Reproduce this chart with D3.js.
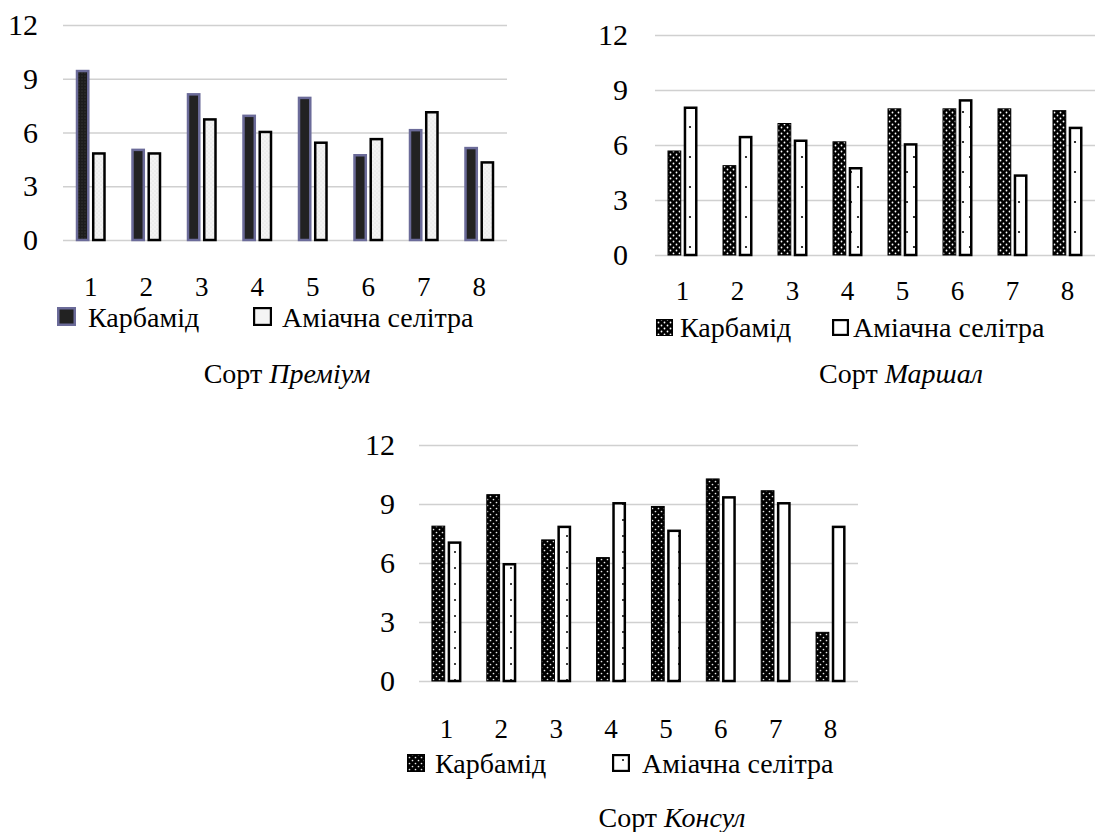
<!DOCTYPE html>
<html><head><meta charset="utf-8">
<script src="https://cdn.jsdelivr.net/npm/d3@7"></script>
<style>
body{margin:0;background:#fff}
svg{display:block}
</style>
</head><body>
<svg id="c" width="1101" height="832"></svg>
<script>
// ---- data ----
const categories = ["1","2","3","4","5","6","7","8"];
const yTicks = [0, 3, 6, 9, 12];
const seriesNames = ["Карбамід", "Аміачна селітра"];
const varieties = ["Преміум", "Маршал", "Консул"];
const premiumKarbamid = [9.5, 5.1, 8.2, 7.0, 8.0, 4.8, 6.2, 5.2];
const premiumSelitra  = [4.9, 4.9, 6.8, 6.1, 5.5, 5.7, 7.2, 4.4];
const marshalKarbamid = [5.7, 4.9, 7.2, 6.2, 8.0, 8.0, 8.0, 7.9];
const marshalSelitra  = [8.1, 6.5, 6.3, 4.8, 6.1, 8.5, 4.4, 7.0];
const konsulKarbamid  = [7.9, 9.5, 7.2, 6.3, 8.9, 10.3, 9.7, 2.5];
const konsulSelitra   = [7.1, 6.0, 7.9, 9.1, 7.7, 9.4, 9.1, 7.9];

const FONT = '"Liberation Serif","Times New Roman",serif';
const svg = d3.select("#c");
const defs = svg.append("defs");
function pat(id, w, h, bg, dots, color, r) {
  const p = defs.append("pattern").attr("id", id)
    .attr("patternUnits", "userSpaceOnUse").attr("width", w).attr("height", h);
  p.append("rect").attr("width", w).attr("height", h).attr("fill", bg);
  dots.forEach(([x, y]) => p.append("circle").attr("cx", x).attr("cy", y).attr("r", r).attr("fill", color));
}
pat("p1k", 3, 3, "#1c1c1c", [[1, 1]], "#444", 0.6);
pat("p1a", 4, 4, "#f3f3f3", [[1, 1], [3, 3]], "#dcdcdc", 0.6);
pat("p2k", 6, 6, "#000", [[1.5, 1.5], [4.5, 4.5]], "#fff", 0.9);
pat("p2a", 14, 30, "#fff", [[4, 7], [11, 22]], "#000", 1.1);
pat("p3k", 6, 6, "#000", [[1.5, 1.5], [4.5, 4.5]], "#e8e8e8", 0.85);
pat("p3a", 14, 16, "#fff", [[7, 8]], "#000", 1.0);

// ---- layouts (positions / styles) ----
const layouts = [
  { k: premiumKarbamid, a: premiumSelitra, x: [63, 507], y: [240, 25], yLabelX: 38, xLabelY: 296,
    legend: [{ x: 57, y: 307, s: 19 }, { x: 253, y: 307, s: 19 }], legendText: [88, 282], legendY: 327,
    titleX: 287, titleY: 383,
    kFill: "#222", kFirstFill: "url(#p1k)", kStroke: "#6b6b99", kSw: 2.5, aFill: "url(#p1a)", aStroke: "#000", aSw: 2.5, legAFill: "#f4f4f4" },
  { k: marshalKarbamid, a: marshalSelitra, x: [655, 1095], y: [255, 35], yLabelX: 628, xLabelY: 300,
    legend: [{ x: 656, y: 319, s: 17 }, { x: 832, y: 319, s: 17 }], legendText: [680, 853], legendY: 337,
    titleX: 901, titleY: 383,
    kFill: "url(#p2k)", kStroke: "#000", kSw: 1, aFill: "url(#p2a)", aStroke: "#000", aSw: 2.5, legAFill: "#fff" },
  { k: konsulKarbamid, a: konsulSelitra, x: [419, 858], y: [681, 445], yLabelX: 395, xLabelY: 738,
    legend: [{ x: 407, y: 754, s: 18 }, { x: 612, y: 754, s: 18 }], legendText: [435, 642], legendY: 773,
    titleX: 672, titleY: 827,
    kFill: "url(#p3k)", kStroke: "#000", kSw: 1, aFill: "url(#p3a)", aStroke: "#000", aSw: 2.5, legAFill: "url(#p3a)" }
];

layouts.forEach((L, i) => {
  const g = svg.append("g");
  const x0 = d3.scaleBand().domain(categories).range(L.x).padding(0);
  const x1 = d3.scaleBand().domain(seriesNames).range([-15, 15]).paddingInner(0.15);
  const y = d3.scaleLinear().domain([0, 12]).range(L.y);

  // grid + y labels
  const ya = g.append("g").attr("transform", `translate(${L.x[0]},0)`)
    .call(d3.axisLeft(y).tickValues(yTicks).tickSize(-(L.x[1] - L.x[0])).tickPadding(L.x[0] - L.yLabelX));
  ya.select(".domain").remove();
  ya.selectAll(".tick line").attr("stroke", "#d0d0d0").attr("stroke-width", 1.6);
  ya.selectAll(".tick text").attr("font-family", FONT).style("font-size", "30px").attr("fill", "#000");

  // x labels
  const xa = g.append("g").attr("transform", `translate(0,${L.y[0]})`)
    .call(d3.axisBottom(x0).tickSize(0));
  xa.select(".domain").remove();
  xa.selectAll(".tick text").attr("y", L.xLabelY - L.y[0]).attr("dy", null)
    .attr("font-family", FONT).style("font-size", "27px").attr("fill", "#000");

  // bars
  const series = [
    { name: seriesNames[0], vals: L.k, fill: L.kFill, first: L.kFirstFill, stroke: L.kStroke, sw: L.kSw },
    { name: seriesNames[1], vals: L.a, fill: L.aFill, stroke: L.aStroke, sw: L.aSw }
  ];
  series.forEach(s => {
    g.append("g").selectAll("rect").data(categories.map((c, j) => ({ c, j, v: s.vals[j] })))
      .join("rect")
      .attr("x", d => x0(d.c) + x0.bandwidth() / 2 + x1(s.name) + s.sw / 2)
      .attr("width", x1.bandwidth() - s.sw)
      .attr("y", d => y(d.v) + s.sw / 2)
      .attr("height", d => y(0) - y(d.v) - s.sw / 2)
      .attr("fill", d => (d.j === 0 && s.first) ? s.first : s.fill)
      .attr("stroke", s.stroke).attr("stroke-width", s.sw);
  });

  // legend
  const legFills = [
    { fill: L.kFill, stroke: L.kStroke, sw: L.kSw },
    { fill: L.legAFill, stroke: "#000", sw: 2.2 }
  ];
  seriesNames.forEach((n, j) => {
    const b = L.legend[j];
    g.append("rect").attr("x", b.x + legFills[j].sw / 2).attr("y", b.y + legFills[j].sw / 2)
      .attr("width", b.s - legFills[j].sw).attr("height", b.s - legFills[j].sw)
      .attr("fill", legFills[j].fill).attr("stroke", legFills[j].stroke).attr("stroke-width", legFills[j].sw);
    g.append("text").attr("x", L.legendText[j]).attr("y", L.legendY)
      .attr("font-family", FONT).style("font-size", "28px").attr("fill", "#000").text(n);
  });

  // title
  const t = g.append("text").attr("x", L.titleX).attr("y", L.titleY)
    .attr("text-anchor", "middle").attr("font-family", FONT).style("font-size", "28px").attr("fill", "#000");
  t.append("tspan").text("Сорт ");
  t.append("tspan").style("font-style", "italic").text(varieties[i]);
});
</script>
</body></html>
